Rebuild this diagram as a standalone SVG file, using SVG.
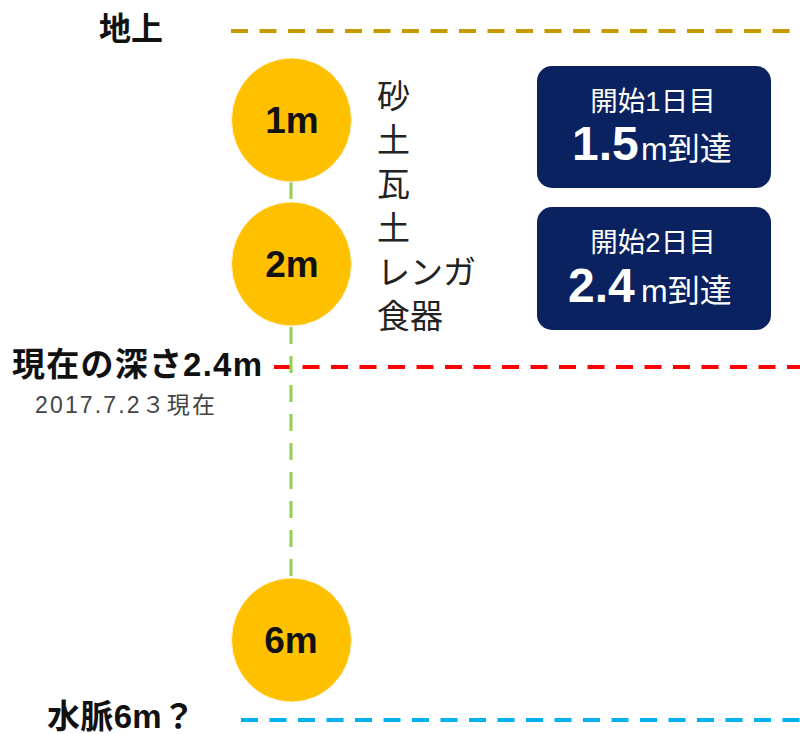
<svg xmlns="http://www.w3.org/2000/svg" width="800" height="734" viewBox="0 0 800 734">
<style>
.jp{font-family:"Liberation Sans","Noto Sans CJK JP",sans-serif}
.lbl{font-family:"Liberation Sans","Noto Sans CJK JP",sans-serif;font-weight:bold;fill:#111}
.dot{fill:#FFC000;stroke:#FFF4D0;stroke-width:1}
.num{font-family:"Liberation Sans","Noto Sans CJK JP",sans-serif;font-size:37px;font-weight:bold;fill:#111;text-anchor:middle}
.box{fill:#0B2260}
.bt1{font-family:"Liberation Sans","Noto Sans CJK JP",sans-serif;font-size:27.5px;fill:#fff;text-anchor:middle}
.bt2{font-family:"Liberation Sans","Noto Sans CJK JP",sans-serif;fill:#fff}
.soil{font-family:"Noto Sans CJK JP",sans-serif;font-size:33px;fill:#222}
.dash{fill:none;stroke-width:4;stroke-dasharray:17 11.5}
</style>
<g id="connectors">
<line x1="231" y1="31" x2="800" y2="31" class="dash" stroke="#C49A00"/>
<line x1="274" y1="367" x2="800" y2="367" class="dash" stroke="#FF0000" stroke-dasharray="16 12"/>
<line x1="241" y1="720" x2="800" y2="720" class="dash" stroke="#00B0F0" stroke-dasharray="16.5 12"/>
<line x1="291" y1="121" x2="291" y2="640" fill="none" stroke="#92D050" stroke-width="3" stroke-dasharray="17 12" stroke-dashoffset="26"/>
</g>
<g id="label-ground"><text x="99" y="40" class="lbl" font-size="32">地上</text></g>
<g id="label-current">
<text x="12" y="376" class="lbl" font-size="33" textLength="250" lengthAdjust="spacing">現在の深さ2.4m</text>
<text x="35" y="413" class="jp" font-size="23" fill="#444" textLength="180" lengthAdjust="spacing">2017.7.2３現在</text>
</g>
<g id="label-water"><text x="47" y="728" class="lbl" font-size="33" textLength="148" lengthAdjust="spacing">水脈6m？</text></g>
<g id="node-1m"><ellipse cx="291.5" cy="120" rx="60" ry="62" class="dot"/><text x="292" y="133" class="num">1m</text></g>
<g id="node-2m"><ellipse cx="291.5" cy="264" rx="60" ry="62" class="dot"/><text x="292" y="277" class="num">2m</text></g>
<g id="node-6m"><ellipse cx="291.5" cy="640" rx="60" ry="62" class="dot"/><text x="291" y="653" class="num">6m</text></g>
<g id="soil-list">
<text x="377" y="108" class="soil">砂</text>
<text x="377" y="152" class="soil">土</text>
<text x="377" y="196" class="soil">瓦</text>
<text x="377" y="240" class="soil">土</text>
<text x="377" y="284" class="soil">レンガ</text>
<text x="377" y="328" class="soil">食器</text>
</g>
<g id="box-day1">
<rect x="537" y="66" width="234" height="122" rx="15" class="box"/>
<text x="653" y="111" class="bt1">開始1日目</text>
<text y="160" class="bt2"><tspan x="572" font-size="48" font-weight="bold">1.5</tspan><tspan x="641" font-size="32">m到達</tspan></text>
</g>
<g id="box-day2">
<rect x="537" y="207" width="234" height="123" rx="15" class="box"/>
<text x="653" y="252" class="bt1">開始2日目</text>
<text y="302" class="bt2"><tspan x="568" font-size="48" font-weight="bold">2.4</tspan><tspan x="641" font-size="32">m到達</tspan></text>
</g>
</svg>
